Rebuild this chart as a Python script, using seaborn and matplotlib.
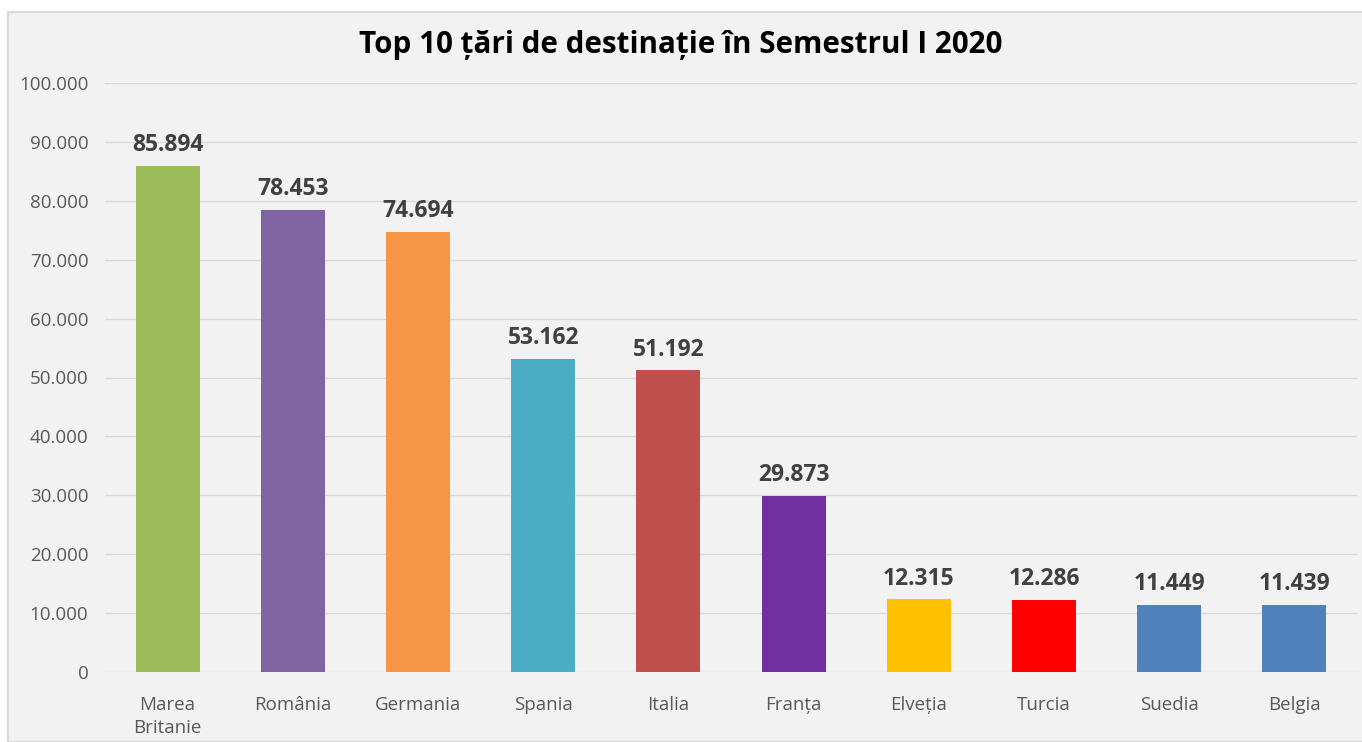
import matplotlib.pyplot as plt
import matplotlib.patches as mpatches
import pandas as pd
import seaborn as sns

# Data
tari = ['Marea\nBritanie', 'România', 'Germania', 'Spania', 'Italia',
        'Franța', 'Elveția', 'Turcia', 'Suedia', 'Belgia']
valori = [85894, 78453, 74694, 53162, 51192, 29873, 12315, 12286, 11449, 11439]
culori = ['#9bbb59', '#8064a2', '#f79646', '#4bacc6', '#c0504d',
          '#7030a0', '#ffc000', '#ff0000', '#4f81bd', '#4f81bd']
y_ticks = list(range(0, 100001, 10000))

data = pd.DataFrame({'Tara': tari, 'Valoare': valori})

sns.set_theme(style="white")
plt.rcParams['font.family'] = ['Open Sans', 'DejaVu Sans']

fig = plt.figure(figsize=(13.62, 7.42), dpi=100)
fig.patch.set_facecolor('white')
# gray chart area like the Excel frame
frame = mpatches.Rectangle((8 / 1362, 0), 1, 1 - 12 / 742,
                           transform=fig.transFigure,
                           facecolor='#f2f2f2', edgecolor='#d9d9d9',
                           linewidth=1.5, zorder=-10)
fig.add_artist(frame)

ax = fig.add_axes([105 / 1362, 1 - 672 / 742, 1252 / 1362, (672 - 83) / 742])
ax.set_zorder(5)
ax.patch.set_alpha(0)

sns.barplot(data=data, x='Tara', y='Valoare', hue='Tara', palette=culori,
            width=0.51, saturation=1, legend=False, linewidth=0, ax=ax, zorder=3)

ax.set_ylim(0, 100000)
ax.set_yticks(y_ticks)
ax.set_yticklabels([f'{v:,}'.replace(',', '.') for v in y_ticks])
ax.grid(axis='y', color='#d9d9d9', linewidth=1, zorder=0)
ax.set_axisbelow(True)
for s in ax.spines.values():
    s.set_visible(False)
ax.tick_params(axis='both', length=0, labelsize=13.5, colors='#595959')
ax.tick_params(axis='x', pad=17)
ax.tick_params(axis='y', pad=12)
for lbl in ax.get_xticklabels():
    lbl.set_linespacing(1.35)
ax.set_xlabel('')
ax.set_ylabel('')

for i, v in enumerate(valori):
    ax.text(i, v + 1500, f'{v:,}'.replace(',', '.'), ha='center', va='bottom',
            fontsize=16.5, fontweight='bold', color='#404040',
            family=['Open Sans', 'DejaVu Sans'])

fig.text(0.5, 1 - 45 / 742, 'Top 10 țări de destinație în Semestrul I 2020',
         ha='center', va='center', fontsize=21.3, fontweight='bold', color='black',
         family=['Open Sans', 'DejaVu Sans'])

fig.savefig('out.png', dpi=100)
